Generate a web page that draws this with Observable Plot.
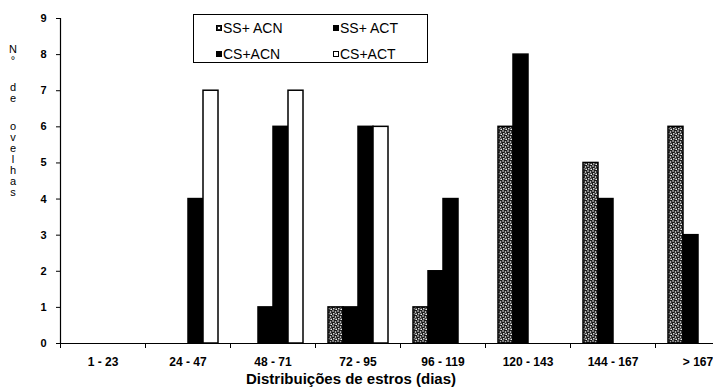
<!DOCTYPE html>
<html>
<head>
<meta charset="utf-8">
<script src="https://cdn.jsdelivr.net/npm/d3@7"></script>
<script src="https://cdn.jsdelivr.net/npm/@observablehq/plot@0.6"></script>
<style>
  html, body { margin: 0; padding: 0; background: #fff; overflow: hidden; }
  #wrap { position: relative; width: 713px; height: 390px; overflow: hidden; }
  #chart svg { max-width: none; }
  #ylabel { position: absolute; left: 8px; top: 44px; font: 11px "Liberation Sans", Arial, sans-serif; color: #000; text-align: center; width: 10px; }
  #ylabel span { display: block; line-height: 11px; height: 11px; }
  #title { position: absolute; left: 0; width: 702px; top: 371px; line-height: 15px; text-align: center; font-family: "Liberation Sans Narrow", "Liberation Sans", Arial, sans-serif; font-weight: bold; font-size: 15px; color: #000; }
  #legend { position: absolute; left: 193px; top: 14px; width: 233px; height: 47px; border: 1.5px solid #000; background: #fff; font: 14px "Liberation Sans", Arial, sans-serif; color: #000; }
  .item { position: absolute; display: flex; align-items: center; line-height: 14px; }
  .sw { width: 6px; height: 6px; margin-right: 1px; box-sizing: border-box; }
</style>
</head>
<body>
<div id="wrap">
  <div id="chart"></div>
  <div id="ylabel"></div>
  <div id="title"></div>
  <div id="legend"></div>
</div>
<script>
const categories = ["1 - 23", "24 - 47", "48 - 71", "72 - 95", "96 - 119", "120 - 143", "144 - 167", "> 167"];
const series = ["SS+ ACN", "SS+ ACT", "CS+ACN", "CS+ACT"];
const ssAcn = [0, 0, 0, 1, 1, 6, 5, 6];
const ssAct = [0, 0, 1, 1, 2, 8, 4, 3];
const csAcn = [0, 4, 6, 6, 4, 0, 0, 0];
const csAct = [0, 7, 7, 6, 0, 0, 0, 0];
const yTicks = [0, 1, 2, 3, 4, 5, 6, 7, 8, 9];
const xTitle = "Distribuições de estros (dias)";
const yTitleLines = ["N", "°", "", "d", "e", "", "o", "v", "e", "l", "h", "a", "s"];

const seriesValues = [ssAcn, ssAct, csAcn, csAct];
const rows = categories.flatMap((c, i) =>
  series.map((s, j) => ({cat: c, series: s, value: seriesValues[j][i]}))
);

const fills = ["url(#stipple)", "#000", "#000", "#fff"];

const chart = Plot.plot({
  width: 741,
  height: 390,
  marginLeft: 58,
  marginRight: 0,
  marginTop: 18,
  marginBottom: 47,
  style: {fontFamily: "'Liberation Sans Narrow', 'Liberation Sans', Arial, sans-serif", fontSize: "11px", color: "#000", background: "#fff", maxWidth: "none"},
  fx: {domain: categories, padding: 0, label: null},
  x: {domain: series, paddingInner: 0, paddingOuter: 0.666, axis: null},
  y: {domain: [0, 9], label: null},
  color: {domain: series, range: fills},
  marks: [
    Plot.barY(rows, {fx: "cat", x: "series", y: "value", fill: "series", stroke: "#000", strokeWidth: 1.5}),
    Plot.ruleY([0], {stroke: "#000", strokeWidth: 1.2}),
    Plot.frame({anchor: "left", insetTop: 325, insetBottom: -4, stroke: "#000"}),
    Plot.frame({anchor: "left", facetAnchor: "left", stroke: "#000", strokeWidth: 1.2}),
    Plot.axisY({ticks: yTicks, tickSize: 4, tickPadding: 10, tickFormat: d3.format("d"), fontWeight: "bold", label: null}),
    Plot.axisFx({anchor: "bottom", tickSize: 0, tickPadding: 14, fontSize: 12, fontWeight: "bold", label: null})
  ]
});

const svg = d3.select(chart.tagName.toLowerCase() === "svg" ? chart : chart.querySelector("svg"));
const defs = svg.insert("defs", ":first-child");
const pat = defs.append("pattern").attr("id", "stipple").attr("width", 5).attr("height", 5).attr("patternUnits", "userSpaceOnUse");
pat.append("rect").attr("width", 5).attr("height", 5).attr("fill", "#1a1a1a");
[[1, 1], [3.5, 2], [1.8, 3.8], [4.2, 4.4]].forEach(([cx, cy]) =>
  pat.append("circle").attr("cx", cx).attr("cy", cy).attr("r", 0.8).attr("fill", "#fff"));

document.getElementById("chart").appendChild(chart);
document.getElementById("title").textContent = xTitle;

const yl = document.getElementById("ylabel");
yTitleLines.forEach((t, i) => {
  const s = document.createElement("span");
  s.textContent = t;
  if (t === "") s.style.height = (i === 2 ? 16 : 17) + "px";
  yl.appendChild(s);
});

const legend = document.getElementById("legend");
const swatchStyles = [
  "background: radial-gradient(circle, #fff 0 1px, #222 1.2px); border: 1px solid #000;",
  "background: #000;",
  "background: #000;",
  "background: #fff; border: 1.5px solid #000;"
];
const pos = [[22, 6], [139, 6], [22, 32], [139, 32]];
series.forEach((s, i) => {
  const it = document.createElement("div");
  it.className = "item";
  it.style.left = pos[i][0] + "px";
  it.style.top = pos[i][1] + "px";
  const sw = document.createElement("div");
  sw.className = "sw";
  sw.setAttribute("style", swatchStyles[i]);
  const tx = document.createElement("span");
  tx.textContent = s;
  it.appendChild(sw);
  it.appendChild(tx);
  legend.appendChild(it);
});
</script>
</body>
</html>
